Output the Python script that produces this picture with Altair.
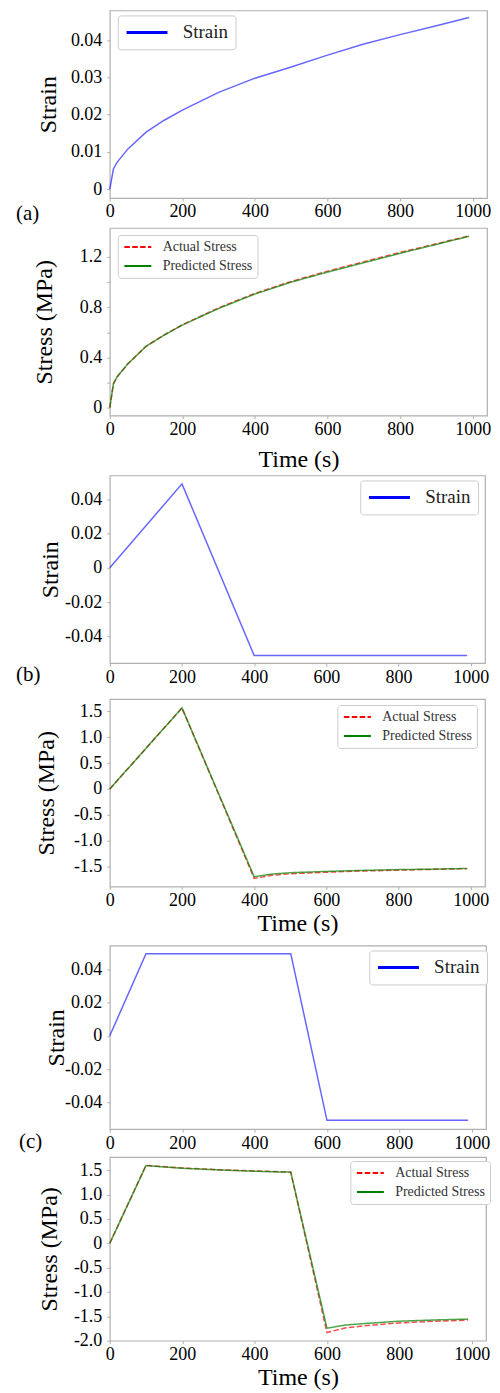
import altair as alt
import pandas as pd

FONT = "Liberation Serif"
FRAME = "#b0b0b0"
X_DOMAIN = [0, 1039.5]
X_TICKS = [0, 200, 400, 600, 800, 1000]
SER = ["Actual Stress", "Predicted Stress"]
HANDLE = "M-1,0H4"   # legend line handle (starts at the symbol column, runs right)

# ---------------- (a) ----------------
a_time = [0, 10, 20, 50, 100, 150, 200, 300, 400, 500, 600, 700, 800, 900, 990]
a_strain = [0, 0.0054, 0.0072, 0.0108, 0.0153, 0.0185, 0.0212, 0.026, 0.0298,
            0.0328, 0.036, 0.039, 0.0415, 0.0439, 0.0461]
a_actual = [0, 0.19, 0.245, 0.35, 0.49, 0.58, 0.66, 0.795, 0.91, 1.005, 1.087,
            1.162, 1.236, 1.305, 1.368]
a_pred = [0, 0.19, 0.245, 0.35, 0.488, 0.578, 0.658, 0.79, 0.905, 1.0, 1.08,
          1.155, 1.23, 1.30, 1.365]

# ---------------- (b) ----------------
b_strain_time = [0, 200, 400, 990]
b_strain = [0, 0.049, -0.0512, -0.0512]
b_time = [0, 200, 400, 450, 500, 600, 700, 800, 900, 990]
b_actual = [0, 1.564, -1.724, -1.665, -1.635, -1.605, -1.582, -1.565, -1.55, -1.536]
b_pred = [0, 1.564, -1.692, -1.64, -1.615, -1.59, -1.57, -1.555, -1.545, -1.533]

# ---------------- (c) ----------------
c_strain_time = [0, 100, 500, 600, 990]
c_strain = [0, 0.0494, 0.0494, -0.0508, -0.0508]
c_time = [0, 100, 200, 300, 400, 500, 600, 650, 700, 800, 900, 990]
c_actual = [0, 1.60, 1.545, 1.51, 1.483, 1.462, -1.832, -1.74, -1.696, -1.635, -1.60, -1.577]
c_pred = [0, 1.594, 1.54, 1.506, 1.479, 1.459, -1.744, -1.68, -1.65, -1.60, -1.574, -1.557]

# tick values
TICKS_A1 = [0, 0.01, 0.02, 0.03, 0.04]
TICKS_A2 = [0, 0.2, 0.4, 0.6, 0.8, 1.0, 1.2]
TICKS_STRAIN = [-0.04, -0.02, 0, 0.02, 0.04]
TICKS_B4 = [-1.5, -1.0, -0.5, 0, 0.5, 1.0, 1.5]
TICKS_C6 = [-2.0, -1.5, -1.0, -0.5, 0, 0.5, 1.0, 1.5]

EXPR2 = "datum.value == 0 ? '0' : (datum.value < 0 ? '-' : '') + format(abs(datum.value), '.2f')"
EXPR1 = "datum.value == 0 ? '0' : (datum.value < 0 ? '-' : '') + format(abs(datum.value), '.1f')"
EXPR_A2 = ("abs(datum.value / 0.4 - round(datum.value / 0.4)) > 0.01 ? '' : "
           "(datum.value == 0 ? '0' : format(datum.value, '.1f'))")


def x_axis(title=None, tpad=0):
    kw = dict(values=X_TICKS, format="d", labelFont=FONT, labelFontSize=18,
              labelColor="black", tickSize=3, tickColor=FRAME, labelPadding=2,
              domain=False, grid=False, labelFlush=False, labelOverlap=False)
    if title:
        kw.update(title=title, titleFont=FONT, titleFontSize=24,
                  titleFontWeight="normal", titleColor="black", titlePadding=tpad)
    else:
        kw.update(title=None)
    return alt.Axis(**kw)


def y_axis(title, values, expr, title_x, h):
    return alt.Axis(title=title, values=values, labelExpr=expr, labelFont=FONT,
                    labelFontSize=18, labelColor="black", tickSize=3,
                    tickColor=FRAME, labelPadding=5, domain=False, grid=False,
                    labelOverlap=False, labelFlush=False, titleFont=FONT,
                    titleFontSize=24, titleFontWeight="normal", titleColor="black",
                    titleX=title_x, titleY=h / 2, titleAngle=270,
                    titleAlign="center", titleBaseline="alphabetic")


def strain_panel(t, v, ydom, yticks, w, h, title_x, leg_x, leg_y, label, lab_x, lab_y):
    df = pd.DataFrame({"t": t, "v": v, "s": ["Strain"] * len(t)})
    line = alt.Chart(df).mark_line(strokeWidth=1.5, opacity=0.6).encode(
        x=alt.X("t:Q", scale=alt.Scale(domain=X_DOMAIN, nice=False, zero=False),
                axis=x_axis()),
        y=alt.Y("v:Q", scale=alt.Scale(domain=ydom, nice=False, zero=False),
                axis=y_axis("Strain", yticks, EXPR2, title_x, h)),
        color=alt.Color("s:N", scale=alt.Scale(domain=["Strain"], range=["#0000ff"]),
                        legend=alt.Legend(title=None, orient="none", legendX=leg_x,
                                          legendY=leg_y, symbolType=HANDLE,
                                          symbolSize=269, symbolStrokeWidth=3,
                                          symbolOpacity=1, labelFont=FONT,
                                          labelFontSize=19, labelColor="#222222",
                                          labelOffset=38, padding=7,
                                          fillColor="white", strokeColor="#cccccc",
                                          cornerRadius=3)),
    )
    lab = alt.Chart(pd.DataFrame({"lab": [label]})).mark_text(
        align="left", baseline="alphabetic", font=FONT, fontSize=21, color="black"
    ).encode(text="lab:N", x=alt.value(lab_x), y=alt.value(lab_y))
    return alt.layer(line, lab).properties(width=w, height=h)


def stress_panel(t, actual, pred, ydom, yticks, expr, w, h, title_x, leg_x, leg_y, tpad):
    df = pd.DataFrame({"t": list(t) + list(t), "v": list(actual) + list(pred),
                       "s": [SER[0]] * len(t) + [SER[1]] * len(t)})
    leg = alt.Legend(title=None, orient="none", legendX=leg_x, legendY=leg_y,
                     symbolType=HANDLE, symbolSize=117, symbolStrokeWidth=2,
                     symbolOpacity=1, labelFont=FONT, labelFontSize=14,
                     labelColor="#333333", labelOffset=26, padding=5, rowPadding=5,
                     fillColor="white", strokeColor="#cccccc", cornerRadius=3)
    line = alt.Chart(df).mark_line(strokeWidth=1.5, opacity=0.7).encode(
        x=alt.X("t:Q", scale=alt.Scale(domain=X_DOMAIN, nice=False, zero=False),
                axis=x_axis("Time (s)", tpad)),
        y=alt.Y("v:Q", scale=alt.Scale(domain=ydom, nice=False, zero=False),
                axis=y_axis("Stress (MPa)", yticks, expr, title_x, h)),
        color=alt.Color("s:N", scale=alt.Scale(domain=SER, range=["#ff0000", "#008000"]),
                        legend=leg),
        strokeDash=alt.StrokeDash("s:N", scale=alt.Scale(domain=SER,
                                                         range=[[5.5, 2.4], [1, 0]]),
                                  legend=leg),
    )
    return line.properties(width=w, height=h)


def stack(top, bottom, gap):
    return alt.vconcat(top, bottom, spacing=gap).resolve_scale(
        color="independent", strokeDash="independent"
    ).resolve_legend(color="independent", strokeDash="independent")


p1 = strain_panel(a_time, a_strain, [-0.0024, 0.048], TICKS_A1, 378, 188, -54, 8, 5,
                  "(a)", -94, 210)
p2 = stress_panel(a_time, a_actual, a_pred, [-0.063, 1.431], TICKS_A2, EXPR_A2,
                  378, 188, -58, 8, 7, 9)
p3 = strain_panel(b_strain_time, b_strain, [-0.0556, 0.0539], TICKS_STRAIN, 376, 188,
                  -52, 251, 5, "(b)", -94, 206)
p4 = stress_panel(b_time, b_actual, b_pred, [-1.883, 1.736], TICKS_B4, EXPR1,
                  376, 188, -56.5, 228, 6, 2)
p5 = strain_panel(c_strain_time, c_strain, [-0.0561, 0.0543], TICKS_STRAIN, 377, 184,
                  -46, 260, 5, "(c)", -91, 203)
p6 = stress_panel(c_time, c_actual, c_pred, [-2.0, 1.77], TICKS_C6, EXPR1,
                  377, 184, -53.5, 241, 4, 2)

g5 = stack(p5, p6, 3)
g4 = stack(p4, g5, 8)
g3 = stack(p3, g4, 11)
g2 = stack(p2, g3, 2)
chart = stack(p1, g2, 2).properties(
    padding={"left": 7, "top": 0, "right": 0, "bottom": 0},
    background="white",
).configure_view(stroke=FRAME, strokeWidth=1.2)

chart.save("out.html", embed_options={"renderer": "svg", "actions": False})
